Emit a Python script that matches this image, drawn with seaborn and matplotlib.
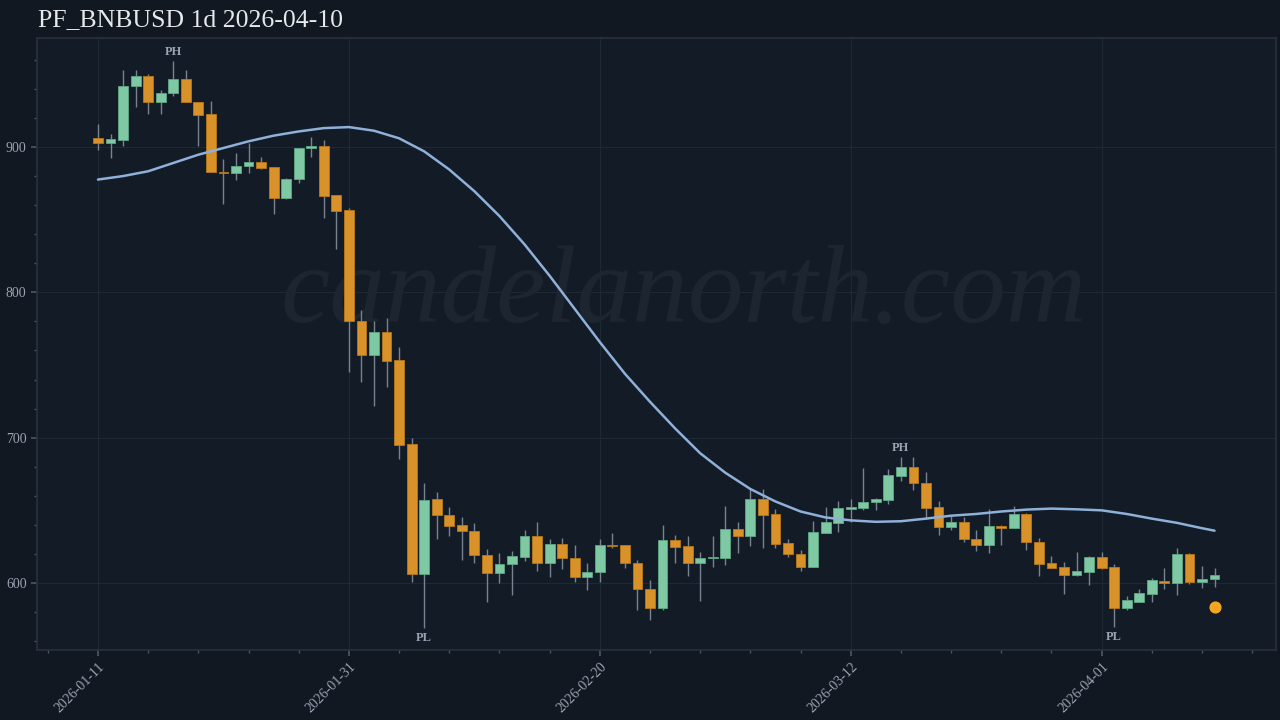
import matplotlib
matplotlib.use("Agg")
import matplotlib.pyplot as plt
import seaborn as sns
import numpy as np
import pandas as pd
from matplotlib.ticker import MultipleLocator

opens = [906.5,903,905,942,949,931,937.5,947,931,923,883,882,887,890,886,865,878,899,901,867,
         856.6,780,757,773,753.4,695.4,606,657.5,647,640,636,619.5,607,613,618,632.4,614,627,617.5,604,
         607.4,626,626,614,596,583,629.4,625.7,613.6,617,617,637.5,632.6,658,647.8,627.4,620,611,634.5,641.4,
         651,651.3,655.4,657,673.6,679.8,669,652,638.6,642,630.6,626,639,638,647.8,628.5,613.8,610.8,605.5,607.8,
         618,611,583,586.9,592.6,601.6,600,620,600.5,602.5]
closes = [903,905.6,942,949,931,937.5,947,931,922,882.5,882,887,890,885.5,865,878,899,901,866.5,856,
          780,757,773,753,695,606,657,646.7,639.5,636,619,607,613,618.6,632.4,614,627,617,604,607.8,
          626,625.3,613.6,595.6,583,629.4,625,613.6,617.5,617.7,637.5,632.6,658,647,627,619.8,611,635,641.8,651.5,
          652,655.9,658,674,679.8,668.5,651.7,638.6,642,630.3,626,639,638,647.8,628,613,610,605.5,608.5,618,
          610.3,582.8,588.5,593,601.8,600,620,600.5,603,605.7]
highs = [916,909,953,953,950,939,959,953,931,931.6,891.7,896,902.7,893,886,879,899,906.7,905,867,
         858,788,780,782.6,762.7,700,668.6,662.8,652,645.5,641,623.4,620.7,622,636.8,642,630.6,631,626,613.8,
         630,634.5,626,615.6,602,640,633,632.6,621,632,653,641.8,665.5,665,651,630,623,642.5,652.4,656.6,
         657.5,679.3,658.6,678.6,687,686.4,676.3,656.3,646.4,645.5,636.8,651,639.8,652.8,648.5,631,618.8,614.7,621,618.8,
         621.6,613.3,590.8,596,603.7,610,624,620.7,612,610.3]
lows = [898,892.5,901,927.6,923,923,935,931,901,882.5,861,877,882,885,854,864,875,893,851,830,
        745,738,722,734.6,685,601,569,630,632.6,616,614,587,600,591.5,615,608,604,609.7,600.7,595,
        601,624,610,581.6,574.7,581.6,614,605,587.8,611,612.6,620.7,625.7,624,624,618,608,611,634.5,635,
        641.8,650,650,654.7,670,664,643.7,633,636.3,628,621.8,620.7,626.4,638,622.5,605,610,592.6,604.6,598.8,
        609.7,570,581.6,586.9,586.7,596,592,599.5,596.8,597]

ma_idx = [0,2,4,6,8,10,12,14,16,18,20,22,24,26,28,30,32,34,36,38,40,42,44,46,
          48,50,52,54,56,58,60,62,64,66,68,70,72,74,76,78,80,82,84,86,88,89]
ma_vals = [877.6,880,883.3,889,894.7,899.3,903.9,907.8,910.7,913,913.7,911.2,906,897,884.5,869.6,
           852.5,833,811.4,788.6,765.8,744,724.7,706.4,
           689.3,675.9,664.7,656.1,649.2,645.1,643.1,642.1,642.5,644.3,646.3,647.5,649.2,650.5,651.2,650.7,
           650,647.5,644.3,641.4,637.7,636]

last_dot_value = 583.4
pivots = [("PH", 6, "high"), ("PH", 64, "high"), ("PL", 26, "low"), ("PL", 81, "low")]
tick_idx = [0, 20, 40, 60, 80]
tick_labels = ["2026-01-11", "2026-01-31", "2026-02-20", "2026-03-12", "2026-04-01"]
yticks = [600, 700, 800, 900]

BG = "#111822"
AX = "#131b26"
UP = "#7ec8a4"
DN = "#d9922a"
WICK = "#77838f"
TXT = "#9aa4b2"

sns.set_theme(style="dark")
plt.rcParams['font.family'] = ['Liberation Serif', 'DejaVu Serif']

fig = plt.figure(figsize=(12.8, 7.2), dpi=100, facecolor=BG)
ax = fig.add_axes([37/1280, 1-650/720, (1276-37)/1280, (650-38)/720])
ax.set_facecolor(AX)

df = pd.DataFrame({"i": np.arange(len(opens)), "o": opens, "c": closes, "h": highs, "l": lows})
up = df.c >= df.o
ax.vlines(df.i, df.l, df.h, color=WICK, lw=1, zorder=2)
ax.bar(df.i[up], (df.c - df.o)[up], bottom=df.o[up], width=0.78, color=UP, edgecolor="#5fa885", lw=0.6, zorder=3)
ax.bar(df.i[~up], (df.o - df.c)[~up], bottom=df.c[~up], width=0.78, color=DN, edgecolor="#b87818", lw=0.6, zorder=3)

ma = pd.DataFrame({"i": ma_idx, "v": ma_vals})
sns.lineplot(data=ma, x="i", y="v", ax=ax, color="#8fb0d8", lw=1.8, zorder=4)
ax.scatter([len(opens)-1], [last_dot_value], s=60, color="#f5a623", zorder=5)

for lab, i, kind in pivots:
    if kind == "high":
        ax.text(i, highs[i] + 2, lab, ha="center", va="bottom", color=TXT, fontsize=9, fontweight="bold")
    else:
        ax.text(i, lows[i] - 3, lab, ha="center", va="top", color=TXT, fontsize=9, fontweight="bold")

ax.text(0.522, 0.58, "candelanorth.com", transform=ax.transAxes, ha="center", va="center",
        fontsize=80, style="italic", color="#1d2630", zorder=1)

ax.set_xlim(-4.86, 93.9)
ax.set_ylim(553.9, 975)
ax.set_xticks(tick_idx)
ax.set_xticklabels(tick_labels, rotation=45, ha="right", rotation_mode="anchor")
ax.xaxis.set_minor_locator(MultipleLocator(4))
ax.set_yticks(yticks)
ax.yaxis.set_minor_locator(MultipleLocator(20))
ax.tick_params(axis="both", which="both", colors="#4a5563", labelcolor=TXT, labelsize=10, bottom=True, left=True)
ax.tick_params(which="major", length=4)
ax.tick_params(which="minor", length=2)
ax.grid(True, which="major", color="#1e2a33", lw=0.8)
for s in ax.spines.values():
    s.set_color("#26313c")
ax.set_xlabel(""); ax.set_ylabel("")

fig.text(38/1280, 1-20/720, "PF_BNBUSD 1d 2026-04-10", color="#e6e8eb", fontsize=18.5, va="center", ha="left")
fig.savefig("out.png", dpi=100, facecolor=BG)
